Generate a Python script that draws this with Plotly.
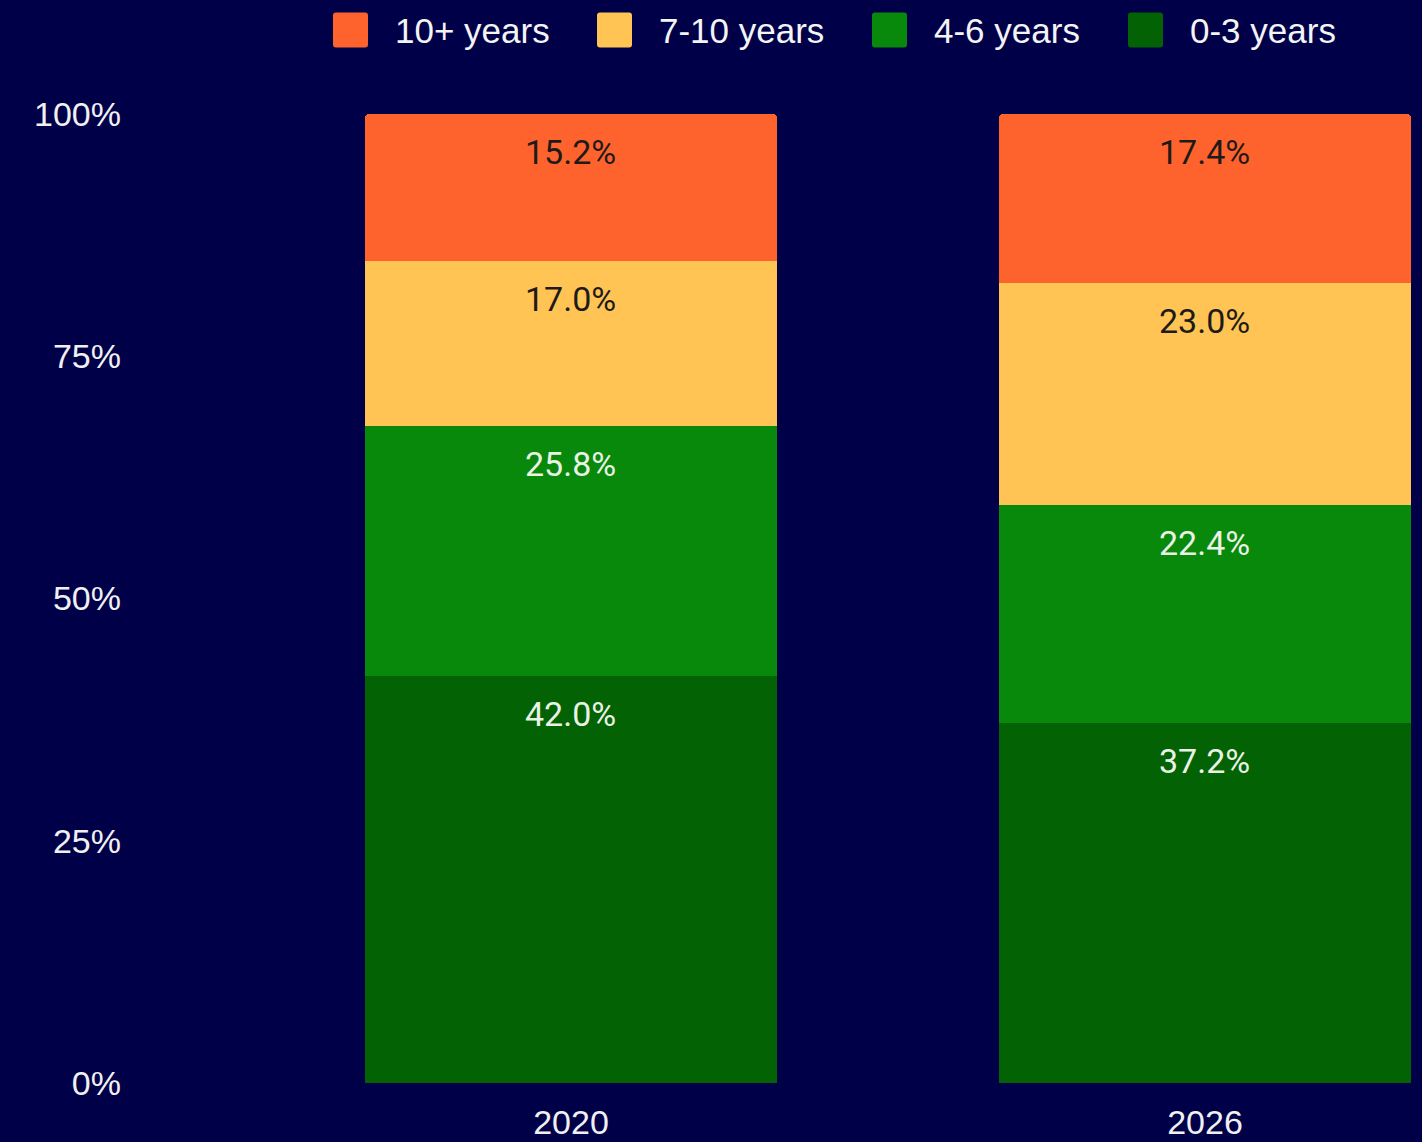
import plotly.graph_objects as go

# ---- data ----
categories = ["2020", "2026"]
series_names = ["0-3 years", "4-6 years", "7-10 years", "10+ years"]  # bottom -> top
values_0_3 = [42.0, 37.2]
values_4_6 = [25.8, 22.4]
values_7_10 = [17.0, 23.0]
values_10p = [15.2, 17.4]
y_ticks = [0, 25, 50, 75, 100]
y_tick_labels = ["0%", "25%", "50%", "75%", "100%"]
legend_order = ["10+ years", "7-10 years", "4-6 years", "0-3 years"]

# ---- style ----
BG = "#000048"
colors = {"0-3 years": "#036203", "4-6 years": "#08890C",
          "7-10 years": "#FFC453", "10+ years": "#FF632D"}
label_colors = {"0-3 years": "#EAF2E6", "4-6 years": "#EAF2E6",
                "7-10 years": "#1E1A1A", "10+ years": "#1E1A1A"}
series_values = {"0-3 years": values_0_3, "4-6 years": values_4_6,
                 "7-10 years": values_7_10, "10+ years": values_10p}

W, H = 1422, 1142
ML, MR, MT, MB = 126, 8, 114, 59
PW, PH = W - ML - MR, H - MT - MB

fig = go.Figure()
for name in series_names:
    fig.add_trace(go.Bar(
        x=categories, y=series_values[name], name=name,
        marker=dict(color=colors[name], line=dict(width=0)),
        width=0.65, showlegend=False, hoverinfo="x+y+name",
    ))

# value labels near top of each segment
annotations = []
for i, cat in enumerate(categories):
    cum = 0.0
    for name in series_names:
        v = series_values[name][i]
        cum += v
        annotations.append(dict(
            x=i, y=cum, xref="x", yref="y", text=f"{v:.1f}%",
            showarrow=False, yanchor="middle", xanchor="center", yshift=-38,
            font=dict(family="Roboto", size=34, color=label_colors[name]),
        ))

# custom legend (large square swatches)
legend_sq_px = [333, 597, 872, 1128]
shapes = []
sq = 35
for px, name in zip(legend_sq_px, legend_order):
    xa = (px - ML) / PW
    ya = (H - MB - 30) / PH  # center of legend row at 30px from top
    r = 3
    h = sq / 2
    path = (f"M {r},{-h} H {sq - r} Q {sq},{-h} {sq},{-h + r} V {h - r} "
            f"Q {sq},{h} {sq - r},{h} H {r} Q 0,{h} 0,{h - r} V {-h + r} Q 0,{-h} {r},{-h} Z")
    shapes.append(dict(type="path", xref="paper", yref="paper",
                       xsizemode="pixel", ysizemode="pixel",
                       xanchor=xa, yanchor=ya, path=path,
                       fillcolor=colors[name], line=dict(width=0)))
    annotations.append(dict(
        x=(px + sq + 25 - ML) / PW, y=ya, xref="paper", yref="paper",
        text=name, showarrow=False, xanchor="left", yanchor="middle",
        font=dict(family="Liberation Sans, Arial", size=35, color="#F4F4F4"),
    ))

fig.update_layout(
    width=W, height=H,
    margin=dict(l=ML, r=MR, t=MT, b=MB, pad=0),
    paper_bgcolor=BG, plot_bgcolor=BG,
    barmode="stack", barcornerradius=4,
    showlegend=False,
    font=dict(family="Liberation Sans, Arial", size=34, color="#F0F0F0"),
    xaxis=dict(type="category", range=[-0.7019, 1.3297], showgrid=False,
               zeroline=False, showline=False, ticks="", automargin=False,
               ticklabelstandoff=16,
               tickfont=dict(family="Liberation Sans, Arial", size=34, color="#F0F0F0")),
    yaxis=dict(range=[0, 100], tickvals=y_ticks, ticktext=y_tick_labels,
               showgrid=False, zeroline=False, showline=False, ticks="",
               ticklabelstandoff=4, automargin=False,
               tickfont=dict(family="Liberation Sans, Arial", size=34, color="#F0F0F0")),
    annotations=annotations, shapes=shapes,
)

fig.write_html("out.html", config={"displayModeBar": False},
               post_script="document.body.style.margin='0';document.body.style.background='#000048';")
